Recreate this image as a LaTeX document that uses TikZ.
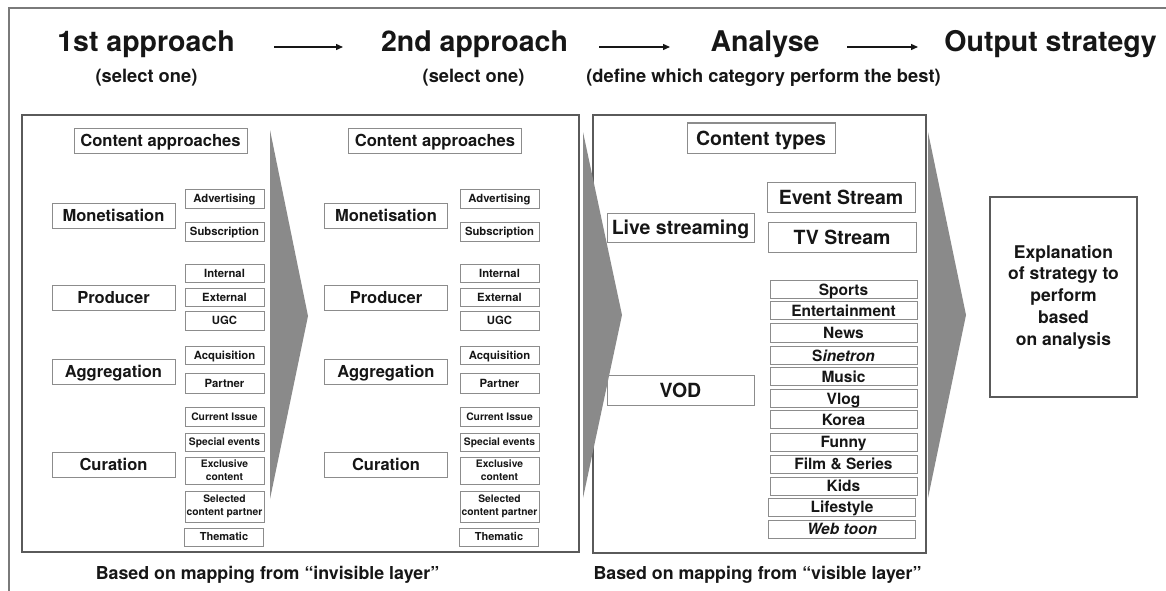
\documentclass[tikz,border=0pt]{standalone}
\usepackage{fontspec}
\setmainfont{TeX Gyre Heros}
\usetikzlibrary{arrows.meta}

\definecolor{ink}{HTML}{161616}
\definecolor{framec}{HTML}{7A7A7A}
\definecolor{panelc}{HTML}{5A5A5A}
\definecolor{boxc}{HTML}{8C8C8C}
\definecolor{chevronc}{HTML}{8A8A8A}

\tikzset{
  hdr/.style={font=\bfseries\fontsize{28.5}{34}\selectfont, text=ink, inner sep=0pt, anchor=base},
  note/.style={font=\bfseries\fontsize{18.3}{22}\selectfont, text=ink, inner sep=0pt, anchor=base},
  caption/.style={font=\bfseries\fontsize{17.8}{21}\selectfont, text=ink, inner sep=0pt, anchor=base},
  frameline/.style={draw=framec, line width=1.2pt},
  panel/.style={draw=panelc, line width=1.6pt},
  flow/.style={-{Triangle[length=7pt,width=6pt]}, line width=1.3pt, draw=ink},
  chevron/.style={fill=chevronc, draw=none},
  tbox/.style={draw=boxc, line width=1pt, inner sep=0pt, align=center, text=ink},
  onebox/.style={tbox, text depth=0pt},
  headbox/.style={onebox, font=\bfseries\fontsize{16.6}{20}\selectfont, text height=12pt, minimum height=25pt},
  catbox/.style={onebox, font=\bfseries\fontsize{16.5}{20}\selectfont, text height=11.9pt, minimum width=123pt, minimum height=25pt},
  optbox/.style={onebox, font=\bfseries\fontsize{11.3}{13}\selectfont, text height=8.1pt, minimum width=79pt, minimum height=18pt},
  curbox/.style={onebox, font=\bfseries\fontsize{10.3}{12}\selectfont, text height=7.4pt, minimum width=79pt, minimum height=18pt},
  twoline/.style={tbox, font=\bfseries\fontsize{10.3}{12.6}\selectfont, minimum width=79pt},
  typebox/.style={onebox, font=\bfseries\fontsize{19.5}{23}\selectfont, text height=14pt, minimum width=147pt, minimum height=30pt},
  listbox/.style={onebox, font=\bfseries\fontsize{15.5}{18}\selectfont, text height=11.2pt, minimum width=147pt, minimum height=18pt},
  outbox/.style={tbox, draw=panelc, line width=1.2pt, font=\bfseries\fontsize{17.5}{21.7}\selectfont,
    minimum width=147pt, minimum height=200pt},
}

% One column of content approaches: name prefix, shift of the category
% boxes, shift of the option boxes, shift of the heading box.
\newcommand\approachcolumn[4]{%
  \node[headbox, minimum width=173pt] (#1head) at (160.5+#4,140.5) {Content approaches};
  \node[catbox] (#1mon) at (113.5+#2,215.5) {Monetisation};
  \node[catbox] (#1pro) at (113.5+#2,297.5) {Producer};
  \node[catbox] (#1agg) at (113.5+#2,372) {Aggregation};
  \node[catbox] (#1cur) at (113.5+#2,464.5) {Curation};
  \node[optbox, minimum height=19pt] (#1adv) at (224.5+#3,198.5) {Advertising};
  \node[optbox, minimum height=19pt] (#1sub) at (224.5+#3,231.5) {Subscription};
  \node[optbox] (#1int) at (224.5+#3,273) {Internal};
  \node[optbox] (#1ext) at (224.5+#3,297) {External};
  \node[optbox, minimum height=19pt] (#1ugc) at (224.5+#3,320.5) {UGC};
  \node[optbox] (#1acq) at (224.5+#3,355) {Acquisition};
  \node[optbox, minimum height=20pt] (#1par) at (224.5+#3,383) {Partner};
  \node[curbox, minimum height=19pt] (#1cis) at (224.5+#3,416.5) {Current Issue};
  \node[curbox] (#1spe) at (224.5+#3,442) {Special events};
  \node[twoline, minimum height=27pt] (#1exc) at (224.5+#3,470.5) {Exclusive\\content};
  \node[twoline, minimum height=31pt] (#1sel) at (224.5+#3,506.5) {Selected\\content partner};
  \node[optbox, font=\bfseries\fontsize{11}{13}\selectfont, text height=7.9pt] (#1the) at (224+#3,537) {Thematic};
}

\begin{document}
\begin{tikzpicture}[x=1pt, y=-1pt]
  \useasboundingbox (0,0) rectangle (1166,591);
  \fill[white] (0,0) rectangle (1166,591);

  % outer frame
  \draw[frameline] (9,591) -- (9,8) -- (1166,8);

  % stage headings
  \node[hdr] (stage1) at (146,52) {1st approach};
  \node[hdr] (stage2) at (474.5,52) {2nd approach};
  \node[hdr] (stage3) at (765,52) {Analyse};
  \node[hdr] (stage4) at (1050.5,52) {Output strategy};
  \node[note] (sub1) at (146.5,83) {(select one)};
  \node[note] (sub2) at (473.5,83) {(select one)};
  \node[note] (sub3) at (763.5,83) {(define which category perform the best)};

  \coordinate (f1a) at (274,47);  \coordinate (f1b) at (343,47);
  \coordinate (f2a) at (599,47);  \coordinate (f2b) at (670,47);
  \coordinate (f3a) at (847,47);  \coordinate (f3b) at (918,47);
  \draw[flow] (f1a) -- (f1b);
  \draw[flow] (f2a) -- (f2b);
  \draw[flow] (f3a) -- (f3b);

  % panels
  \draw[panel] (22,115) rectangle (579,552);
  \draw[panel] (593,115) rectangle (926,553);

  % large grey arrow heads between stages
  \fill[chevron] (270,130) -- (308,316) -- (270,499) -- cycle;
  \fill[chevron] (583,132) -- (622,315) -- (583,498) -- cycle;
  \fill[chevron] (928,132) -- (966,315) -- (928,498) -- cycle;

  % first and second approach columns
  \approachcolumn{a}{0}{0}{0}
  \approachcolumn{b}{272.5}{275}{274.5}

  % content types
  \node[typebox, minimum width=148pt] (types) at (761,138) {Content types};
  \node[typebox, minimum height=29pt] (live) at (680.5,227.5) {Live streaming};
  \node[typebox] (vod) at (680.5,390) {VOD};
  \node[typebox, minimum width=148pt] (event) at (841,197) {Event Stream};
  \node[typebox, minimum width=148pt] (tv) at (842,237) {TV Stream};

  \node[listbox] (sports) at (843.5,289.5) {Sports};
  \node[listbox] (ent)    at (843.5,310.5) {Entertainment};
  \node[listbox, minimum height=19pt] (news) at (843.5,332.5) {News};
  \node[listbox] (sin)    at (843.5,355.5) {S\textit{inetron}};
  \node[listbox] (music)  at (843.5,376.5) {Music};
  \node[listbox] (vlog)   at (843.5,398.5) {Vlog};
  \node[listbox] (korea)  at (843.5,419.5) {Korea};
  \node[listbox] (funny)  at (843.5,442)   {Funny};
  \node[listbox] (film)   at (843.5,464)   {Film \& Series};
  \node[listbox] (kids)   at (843.5,486)   {Kids};
  \node[listbox] (life)   at (842,507)     {Lifestyle};
  \node[listbox] (web)    at (842,529)     {\textit{Web toon}};

  % output strategy
  \node[outbox] (expl) at (1063.5,297)
    {Explanation\\of strategy to\\perform\\based\\on analysis};

  % captions under the panels
  \node[caption] (cap1) at (267.5,579) {Based on mapping from “invisible layer”};
  \node[caption] (cap2) at (757.5,579) {Based on mapping from “visible layer”};
\end{tikzpicture}
\end{document}
